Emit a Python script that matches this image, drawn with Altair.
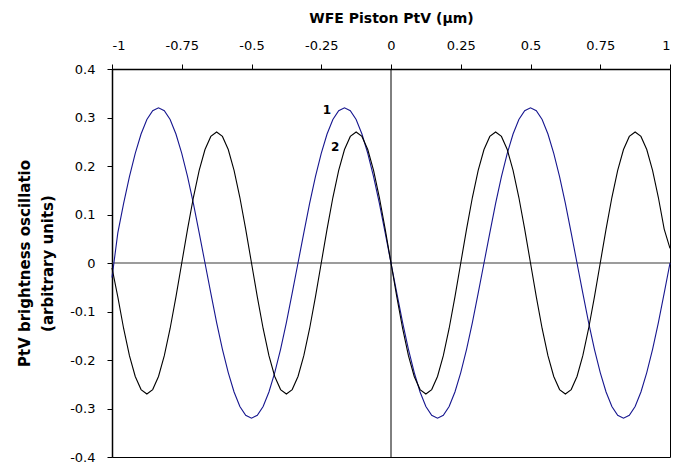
import altair as alt
import pandas as pd

# sample positions along the WFE piston axis (step 1/48 um)
x_vals = [round(-1 + i / 48, 5) for i in range(97)]

curve1 = [
    -0.03, 0.062, 0.123, 0.178, 0.226, 0.266, 0.296, 0.314, 0.32, 0.314, 0.296, 0.266, 0.226, 0.178, 0.123, 0.062,
    0.0, -0.062, -0.123, -0.178, -0.226, -0.266, -0.296, -0.314, -0.32, -0.314, -0.296, -0.266, -0.226, -0.178, -0.123, -0.062,
    0.0, 0.062, 0.123, 0.178, 0.226, 0.266, 0.296, 0.314, 0.32, 0.314, 0.296, 0.266, 0.226, 0.178, 0.123, 0.062,
    0.0, -0.062, -0.123, -0.178, -0.226, -0.266, -0.296, -0.314, -0.32, -0.314, -0.296, -0.266, -0.226, -0.178, -0.123, -0.062,
    0.0, 0.062, 0.123, 0.178, 0.226, 0.266, 0.296, 0.314, 0.32, 0.314, 0.296, 0.266, 0.226, 0.178, 0.123, 0.062,
    0.0, -0.062, -0.123, -0.178, -0.226, -0.266, -0.296, -0.314, -0.32, -0.314, -0.296, -0.266, -0.226, -0.178, -0.123, -0.062,
    0.0,
]

curve2 = [
    -0.01, -0.07, -0.135, -0.191, -0.234, -0.261, -0.27, -0.261, -0.234, -0.191, -0.135, -0.07,
    0.0, 0.07, 0.135, 0.191, 0.234, 0.261, 0.27, 0.261, 0.234, 0.191, 0.135, 0.07,
    0.0, -0.07, -0.135, -0.191, -0.234, -0.261, -0.27, -0.261, -0.234, -0.191, -0.135, -0.07,
    0.0, 0.07, 0.135, 0.191, 0.234, 0.261, 0.27, 0.261, 0.234, 0.191, 0.135, 0.07,
    0.0, -0.07, -0.135, -0.191, -0.234, -0.261, -0.27, -0.261, -0.234, -0.191, -0.135, -0.07,
    0.0, 0.07, 0.135, 0.191, 0.234, 0.261, 0.27, 0.261, 0.234, 0.191, 0.135, 0.07,
    0.0, -0.07, -0.135, -0.191, -0.234, -0.261, -0.27, -0.261, -0.234, -0.191, -0.135, -0.07,
    0.0, 0.07, 0.135, 0.191, 0.234, 0.261, 0.27, 0.261, 0.234, 0.191, 0.135, 0.07,
    0.03,
]

x_ticks = [-1, -0.75, -0.5, -0.25, 0, 0.25, 0.5, 0.75, 1]
y_ticks = [0.4, 0.3, 0.2, 0.1, 0, -0.1, -0.2, -0.3, -0.4]

labels_text = ["1", "2"]
labels_x = [-0.23, -0.2]
labels_y = [0.315, 0.24]

rows = []
for xv, y1 in zip(x_vals, curve1):
    rows.append({"x": xv, "y": y1, "series": "1"})
for xv, y2 in zip(x_vals, curve2):
    rows.append({"x": xv, "y": y2, "series": "2"})
df = pd.DataFrame(rows)

xscale = alt.Scale(domain=[-1, 1], nice=False, zero=False)
yscale = alt.Scale(domain=[-0.4, 0.4], nice=False, zero=False)

x_axis = alt.Axis(
    orient="top", values=x_ticks, title="WFE Piston PtV (\u03bcm)", grid=False,
    labelExpr="toString(datum.value)", tickSize=5, labelPadding=12, titlePadding=14,
    titleFontSize=14, domain=True,
)
y_axis = alt.Axis(
    values=y_ticks, title=["PtV brightness oscillatio", "(arbitrary units)"], grid=False,
    labelExpr="toString(datum.value)", tickSize=5, labelPadding=12, titlePadding=14,
    titleLineHeight=23,
)

lines = alt.Chart(df).mark_line(strokeWidth=1.1).encode(
    x=alt.X("x:Q", scale=xscale, axis=x_axis),
    y=alt.Y("y:Q", scale=yscale, axis=y_axis),
    color=alt.Color("series:N", scale=alt.Scale(domain=["1", "2"], range=["#16168f", "#000000"]), legend=None),
    order=alt.Order("x:Q"),
)

hzero = alt.Chart(pd.DataFrame({"y": [0]})).mark_rule(color="#3a3a3a", strokeWidth=1.2).encode(y=alt.Y("y:Q", scale=yscale))
vzero = alt.Chart(pd.DataFrame({"x": [0]})).mark_rule(color="#000000", strokeWidth=1).encode(x=alt.X("x:Q", scale=xscale))

labels = alt.Chart(pd.DataFrame({"t": labels_text, "x": labels_x, "y": labels_y})).mark_text(
    font="DejaVu Sans", fontSize=12, fontWeight="bold", color="black"
).encode(x=alt.X("x:Q", scale=xscale), y=alt.Y("y:Q", scale=yscale), text="t:N")

chart = alt.layer(hzero, vzero, lines, labels).properties(
    width=558, height=388,
    autosize=alt.AutoSizeParams(type="none"),
    padding={"left": 104, "top": 61, "right": 1, "bottom": 10},
).configure_view(
    stroke="black", strokeWidth=1
).configure_axis(
    labelFont="DejaVu Sans", labelFontSize=13, labelColor="black",
    titleFont="DejaVu Sans", titleFontSize=15, titleFontWeight="bold", titleColor="black",
    tickColor="black", domainColor="black", domainWidth=1.5,
)

chart.save("out.html", embed_options={"renderer": "svg", "actions": False})
